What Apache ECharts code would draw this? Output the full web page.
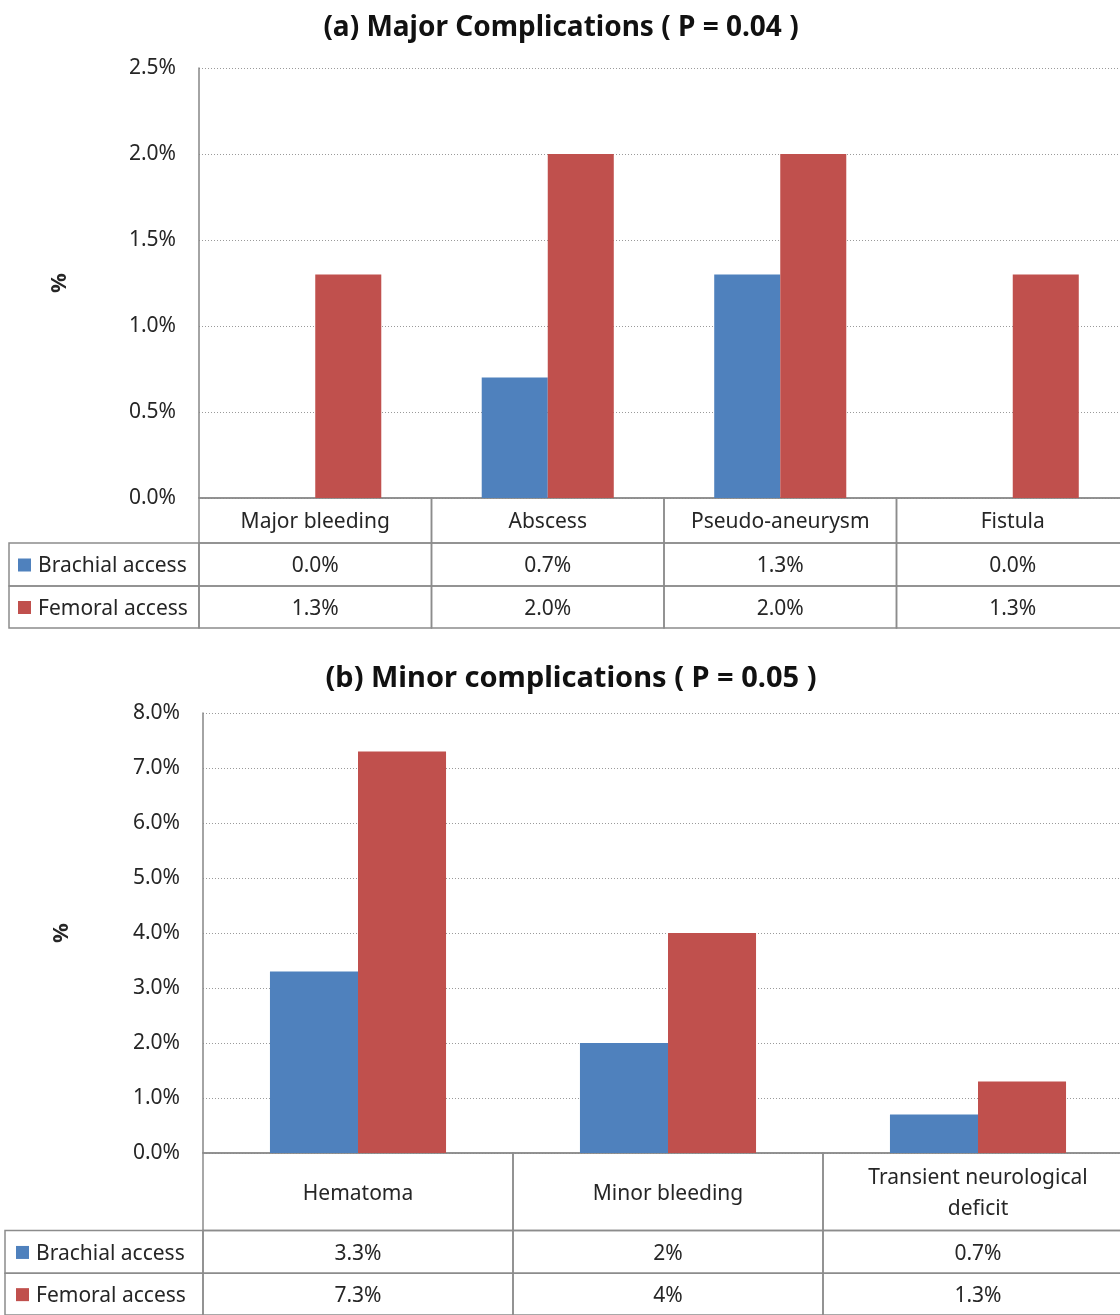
<!DOCTYPE html>
<html>
<head>
<meta charset="utf-8">
<script src="https://cdn.jsdelivr.net/npm/echarts@6/dist/echarts.min.js"></script>
<style>
  html, body { margin: 0; padding: 0; background: #ffffff; overflow: hidden; }
  #chart { width: 1140px; height: 1315px; }
</style>
</head>
<body>
<div id="chart"></div>
<script>
// ---- Panel (a): major complications ----
const majorTitle = '(a) Major Complications ( P = 0.04 )';
const majorCategories = ['Major bleeding', 'Abscess', 'Pseudo-aneurysm', 'Fistula'];
const majorBrachial = [0.0, 0.7, 1.3, 0.0];
const majorFemoral = [1.3, 2.0, 2.0, 1.3];
const majorTicks = [0.0, 0.5, 1.0, 1.5, 2.0, 2.5];

// ---- Panel (b): minor complications ----
const minorTitle = '(b) Minor complications ( P = 0.05 )';
const minorCategories = ['Hematoma', 'Minor bleeding', 'Transient neurological\ndeficit'];
const minorBrachial = [3.3, 2, 0.7];
const minorFemoral = [7.3, 4, 1.3];
const minorTicks = [0.0, 1.0, 2.0, 3.0, 4.0, 5.0, 6.0, 7.0, 8.0];

const seriesNames = ['Brachial access', 'Femoral access'];
const seriesColors = ['#4F81BD', '#C0504D'];

// Layout of the two panels (pixels); the plot runs a little past the right edge
const FONT = "'Noto Sans', 'Liberation Sans', sans-serif";
const TEXT = '#262626';
const BORDER = '#8c8c8c';
const layoutA = { left: 199, width: 930, top: 68, height: 430, rowEdges: [0, 45, 88, 130], labelCol: 190, swatchX: 9, labelX: 29, titleX: 556, titleY: 9, nameGap: 128 };
const layoutB = { left: 203, width: 930, top: 713, height: 440, rowEdges: [0, 80, 124, 167], labelCol: 198, swatchX: 11, labelX: 31, titleX: 566, titleY: 659, nameGap: 130 };
const TEXT_DY = 2;

// Value formatting used in the data tables
const fmtA = v => v.toFixed(1) + '%';
const fmtB = v => v + '%';

function tableCells(categories, brachial, femoral, fmt) {
  const cells = [];
  categories.forEach((c, i) => cells.push({ cat: i, row: 0, text: c, kind: 'head' }));
  cells.push({ cat: 0, row: 1, text: seriesNames[0], kind: 'label', color: seriesColors[0] });
  cells.push({ cat: 0, row: 2, text: seriesNames[1], kind: 'label', color: seriesColors[1] });
  brachial.forEach((v, i) => cells.push({ cat: i, row: 1, text: fmt(v), kind: 'value' }));
  femoral.forEach((v, i) => cells.push({ cat: i, row: 2, text: fmt(v), kind: 'value' }));
  return cells;
}

function tableSeries(cells, layout, axisIndex) {
  return {
    type: 'custom',
    xAxisIndex: axisIndex,
    yAxisIndex: axisIndex,
    silent: true,
    clip: false,
    data: cells.map(c => [c.cat, layout.rowEdges[c.row]]),
    renderItem: function (params, api) {
      const c = cells[params.dataIndex];
      const band = api.size([1, 0])[0];
      const cx = api.coord([c.cat, 0])[0];
      const y0 = api.coord([c.cat, layout.rowEdges[c.row]])[1];
      const y1 = api.coord([c.cat, layout.rowEdges[c.row + 1]])[1];
      let x0, x1;
      if (c.kind === 'label') { x1 = cx - band / 2; x0 = x1 - layout.labelCol; }
      else { x0 = cx - band / 2; x1 = cx + band / 2; }
      const children = [{
        type: 'rect',
        shape: { x: x0, y: y0, width: x1 - x0, height: y1 - y0 },
        style: { fill: 'none', stroke: BORDER, lineWidth: 1.5 }
      }];
      const ym = (y0 + y1) / 2;
      if (c.kind === 'label') {
        children.push({
          type: 'rect',
          shape: { x: x0 + layout.swatchX, y: ym - 6, width: 13, height: 13 },
          style: { fill: c.color }
        });
        children.push({
          type: 'text',
          style: { x: x0 + layout.labelX, y: ym + TEXT_DY, text: c.text, fill: TEXT, font: '21px ' + FONT, textAlign: 'left', textVerticalAlign: 'middle' }
        });
      } else {
        children.push({
          type: 'text',
          style: { x: (x0 + x1) / 2, y: ym + TEXT_DY, text: c.text, fill: TEXT, font: '21px ' + FONT, textAlign: 'center', textVerticalAlign: 'middle', lineHeight: 31 }
        });
      }
      return { type: 'group', children: children };
    }
  };
}

function plotYAxis(ticks, fmt, gridIndex, nameGap) {
  return {
    type: 'value', gridIndex: gridIndex,
    min: ticks[0], max: ticks[ticks.length - 1], interval: ticks[1] - ticks[0],
    name: '%', nameLocation: 'middle', nameGap: nameGap, nameRotate: 90,
    nameTextStyle: { fontFamily: FONT, fontSize: 22, fontWeight: 'bold', color: TEXT },
    axisLine: { show: true, lineStyle: { color: '#868686', width: 1.5 } },
    axisTick: { show: false },
    axisLabel: { formatter: v => fmt(v), fontFamily: FONT, fontSize: 21, color: TEXT, margin: 23, padding: [3, 0, 0, 0] },
    splitLine: { show: true, lineStyle: { color: '#9a9a9a', type: [1, 2], width: 1 } }
  };
}

function plotXAxis(categories, gridIndex) {
  return {
    type: 'category', gridIndex: gridIndex, data: categories,
    axisLine: { show: true, lineStyle: { color: '#868686', width: 1.5 } },
    axisTick: { show: false }, axisLabel: { show: false }, splitLine: { show: false }
  };
}

function tableXAxis(categories, gridIndex) {
  return { type: 'category', gridIndex: gridIndex, data: categories, show: false };
}
function tableYAxis(layout, gridIndex) {
  return { type: 'value', gridIndex: gridIndex, min: 0, max: layout.rowEdges[layout.rowEdges.length - 1], inverse: true, show: false, splitLine: { show: false } };
}

function bars(values, idx, axisIndex) {
  return {
    type: 'bar', name: seriesNames[idx], data: values,
    xAxisIndex: axisIndex, yAxisIndex: axisIndex,
    barWidth: '28.4%', barGap: '0%',
    itemStyle: { color: seriesColors[idx] },
    silent: true
  };
}

const cellsA = tableCells(majorCategories, majorBrachial, majorFemoral, fmtA);
const cellsB = tableCells(minorCategories, minorBrachial, minorFemoral, fmtB);

const chart = echarts.init(document.getElementById('chart'), null, { renderer: 'canvas' });
chart.setOption({
  animation: false,
  backgroundColor: '#ffffff',
  title: [
    { text: majorTitle, left: layoutA.titleX, top: layoutA.titleY, textAlign: 'center',
      textStyle: { fontFamily: FONT, fontSize: 28, fontWeight: 'bold', color: '#111' } },
    { text: minorTitle, left: layoutB.titleX, top: layoutB.titleY, textAlign: 'center',
      textStyle: { fontFamily: FONT, fontSize: 29, fontWeight: 'bold', color: '#111' } }
  ],
  grid: [
    { left: layoutA.left, width: layoutA.width, top: layoutA.top, height: layoutA.height },
    { left: layoutA.left, width: layoutA.width, top: layoutA.top + layoutA.height, height: layoutA.rowEdges[3] },
    { left: layoutB.left, width: layoutB.width, top: layoutB.top, height: layoutB.height },
    { left: layoutB.left, width: layoutB.width, top: layoutB.top + layoutB.height, height: layoutB.rowEdges[3] }
  ],
  xAxis: [
    plotXAxis(majorCategories, 0),
    tableXAxis(majorCategories, 1),
    plotXAxis(minorCategories, 2),
    tableXAxis(minorCategories, 3)
  ],
  yAxis: [
    plotYAxis(majorTicks, fmtA, 0, layoutA.nameGap),
    tableYAxis(layoutA, 1),
    plotYAxis(minorTicks, v => v.toFixed(1) + '%', 2, layoutB.nameGap),
    tableYAxis(layoutB, 3)
  ],
  series: [
    bars(majorBrachial, 0, 0),
    bars(majorFemoral, 1, 0),
    tableSeries(cellsA, layoutA, 1),
    bars(minorBrachial, 0, 2),
    bars(minorFemoral, 1, 2),
    tableSeries(cellsB, layoutB, 3)
  ]
});
</script>
</body>
</html>
